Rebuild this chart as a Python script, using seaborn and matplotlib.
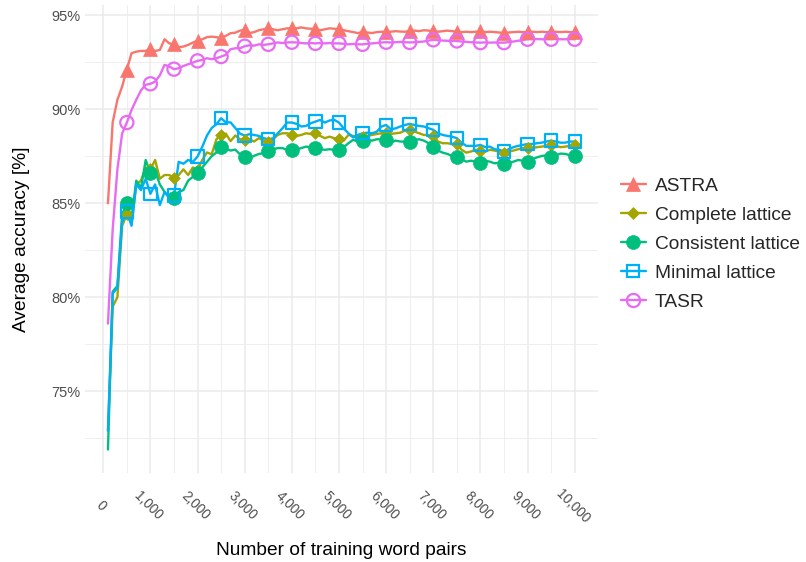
import matplotlib.pyplot as plt
import matplotlib.transforms as mtransforms
import pandas as pd
import seaborn as sns
from matplotlib.lines import Line2D

# Training set size (word pairs), one sample every 100 pairs
train_pairs = list(range(100, 10001, 100))

astra = [85.0, 89.3, 90.5, 91.2, 92.1, 92.98, 93.06, 93.1, 93.1, 93.2,
         93.1, 93.15, 93.72, 93.5, 93.45, 93.3, 93.33, 93.42, 93.54, 93.65,
         93.72, 93.83, 93.86, 93.83, 93.78, 93.9, 94.04, 94.07, 94.18, 94.22,
         94.05, 94.1, 94.2, 94.25, 94.3, 94.25, 94.2, 94.25, 94.3, 94.3,
         94.3, 94.35, 94.3, 94.28, 94.25, 94.2, 94.25, 94.3, 94.28, 94.25,
         94.2, 94.15, 94.1, 94.05, 94.1, 94.08, 94.05, 94.1, 94.12, 94.1,
         94.12, 94.15, 94.13, 94.12, 94.15, 94.18, 94.15, 94.2, 94.18, 94.15,
         94.12, 94.15, 94.18, 94.15, 94.12, 94.1, 94.12, 94.1, 94.12, 94.15,
         94.1, 94.12, 94.1, 94.08, 94.05, 94.08, 94.1, 94.12, 94.1, 94.1,
         94.12, 94.1, 94.12, 94.1, 94.1, 94.12, 94.1, 94.12, 94.1, 94.1]

complete = [72.9, 79.5, 80.0, 83.8, 84.4, 83.9, 86.0, 86.2, 86.9, 86.8,
            87.3, 86.3, 86.5, 86.5, 86.33, 86.5, 86.8, 86.5, 86.9, 86.77,
            87.3, 87.7, 87.6, 88.4, 88.63, 88.7, 88.3, 88.6, 88.4, 88.37,
            88.4, 88.28, 88.46, 88.33, 88.28, 88.4, 88.63, 88.72, 88.72, 88.63,
            88.58, 88.63, 88.72, 88.68, 88.72, 88.58, 88.46, 88.54, 88.46, 88.4,
            88.33, 88.63, 88.58, 88.54, 88.54, 88.58, 88.63, 88.68, 88.72, 88.72,
            88.68, 88.72, 88.75, 88.86, 88.9, 88.81, 88.72, 88.63, 88.63, 88.58,
            88.28, 88.19, 88.19, 88.15, 88.15, 87.84, 87.69, 87.75, 87.84, 87.8,
            87.75, 87.84, 87.8, 87.75, 87.69, 87.75, 87.8, 87.87, 87.93, 87.93,
            87.93, 87.98, 88.01, 88.05, 88.1, 88.05, 87.98, 88.01, 88.05, 88.1]

consistent = [71.9, 80.3, 80.6, 84.4, 85.0, 84.2, 86.2, 85.8, 87.3, 86.6,
              86.7, 86.0, 85.6, 85.3, 85.3, 85.6, 85.7, 86.2, 86.4, 86.6,
              86.9, 87.2, 87.5, 87.7, 88.0, 87.9, 87.8, 87.85, 87.6, 87.48,
              87.39, 87.52, 87.62, 87.66, 87.8, 87.87, 87.93, 87.93, 87.84, 87.84,
              87.87, 87.93, 88.01, 87.98, 87.93, 87.87, 87.84, 87.87, 87.84, 87.84,
              87.98, 88.19, 88.37, 88.28, 88.33, 88.37, 88.33, 88.4, 88.4, 88.37,
              88.23, 88.33, 88.28, 88.28, 88.28, 88.37, 88.4, 88.33, 88.19, 88.01,
              87.8, 87.69, 87.62, 87.51, 87.44, 87.34, 87.21, 87.26, 87.21, 87.16,
              87.26, 87.21, 87.12, 87.16, 87.09, 87.12, 87.21, 87.3, 87.26, 87.21,
              87.34, 87.44, 87.51, 87.55, 87.46, 87.55, 87.64, 87.62, 87.55, 87.51]

minimal = [72.9, 80.2, 80.5, 84.0, 84.55, 83.8, 86.0, 85.7, 86.3, 85.5,
           86.0, 84.9, 85.6, 85.3, 85.4, 87.2, 87.1, 87.3, 87.2, 87.48,
           88.0, 88.6, 89.0, 89.2, 89.52, 89.3, 89.3, 89.0, 88.7, 88.6,
           88.67, 88.63, 88.58, 88.46, 88.4, 88.45, 88.72, 88.98, 89.29, 89.29,
           89.22, 89.08, 89.11, 89.25, 89.34, 89.43, 89.29, 89.4, 89.43, 89.29,
           88.98, 88.72, 88.5, 88.63, 88.72, 88.75, 88.72, 88.8, 89.08, 89.16,
           88.93, 88.98, 89.08, 89.16, 89.22, 89.16, 89.11, 89.08, 88.99, 88.9,
           88.72, 88.63, 88.58, 88.54, 88.46, 88.22, 88.05, 88.05, 88.05, 88.1,
           87.98, 88.01, 87.87, 87.84, 87.75, 87.87, 87.98, 88.05, 88.1, 88.15,
           88.15, 88.19, 88.22, 88.28, 88.33, 88.28, 88.22, 88.22, 88.28, 88.28]

tasr = [78.6, 83.6, 86.8, 88.7, 89.29, 89.96, 90.5, 91.0, 91.3, 91.35,
        91.47, 91.8, 92.36, 92.27, 92.13, 92.18, 92.3, 92.39, 92.48, 92.57,
        92.62, 92.71, 92.66, 92.71, 92.8, 92.89, 93.19, 93.24, 93.24, 93.35,
        93.4, 93.38, 93.45, 93.42, 93.45, 93.5, 93.55, 93.52, 93.55, 93.56,
        93.55, 93.52, 93.5, 93.52, 93.5, 93.52, 93.5, 93.52, 93.5, 93.5,
        93.48, 93.45, 93.47, 93.45, 93.45, 93.48, 93.5, 93.52, 93.55, 93.56,
        93.55, 93.56, 93.58, 93.56, 93.55, 93.56, 93.58, 93.6, 93.65, 93.69,
        93.67, 93.65, 93.64, 93.63, 93.63, 93.6, 93.58, 93.56, 93.55, 93.54,
        93.55, 93.54, 93.55, 93.54, 93.54, 93.57, 93.6, 93.64, 93.68, 93.72,
        93.72, 93.73, 93.72, 93.72, 93.72, 93.73, 93.72, 93.72, 93.73, 93.72]

methods = ["ASTRA", "Complete lattice", "Consistent lattice", "Minimal lattice", "TASR"]
colors = ["#F8766D", "#A3A500", "#00BF7D", "#00B0F6", "#E76BF3"]

series = dict(zip(methods, [astra, complete, consistent, minimal, tasr]))
df = pd.concat([pd.DataFrame({"pairs": train_pairs, "acc": vals, "method": name})
                for name, vals in series.items()], ignore_index=True)
palette = dict(zip(methods, colors))

# marker style per method: (marker, size, filled)
marker_style = {
    "ASTRA": ("^", 100, True),
    "Complete lattice": ("D", 36, True),
    "Consistent lattice": ("o", 100, True),
    "Minimal lattice": ("s", 80, False),
    "TASR": ("o", 90, False),
}

sns.set_theme(style="white")
plt.rcParams["font.family"] = ["Liberation Sans", "DejaVu Sans"]

fig = plt.figure(figsize=(8.06, 5.62), dpi=100)
ax = fig.add_axes([0.105, 0.159, 0.637, 0.8317])

sns.lineplot(data=df, x="pairs", y="acc", hue="method", hue_order=methods,
             palette=palette, estimator=None, lw=1.7, legend=False, ax=ax)

marked = df[df["pairs"] % 500 == 0]
for name in methods:
    m, s, filled = marker_style[name]
    sub = marked[marked["method"] == name]
    c = palette[name]
    if filled:
        sns.scatterplot(data=sub, x="pairs", y="acc", marker=m, s=s, color=c,
                        edgecolor=c, linewidth=0.5, legend=False, ax=ax, zorder=3)
    else:
        sns.scatterplot(data=sub, x="pairs", y="acc", marker=m, s=s,
                        facecolor="none", edgecolor=c, linewidth=1.6,
                        legend=False, ax=ax, zorder=3)

ax.set_xlim(-395, 10495)
ax.set_ylim(70.67, 95.53)
ax.set_xticks(range(0, 10001, 1000))
ax.set_xticks(range(500, 10001, 1000), minor=True)
ax.set_yticks([75, 80, 85, 90, 95])
ax.set_yticks([72.5, 77.5, 82.5, 87.5, 92.5], minor=True)
ax.set_xticklabels([f"{v:,}" for v in range(0, 10001, 1000)])
ax.set_yticklabels([f"{v}%" for v in [75, 80, 85, 90, 95]])
ax.grid(which="major", color="#EBEBEB", lw=1.1)
ax.grid(which="minor", color="#EBEBEB", lw=0.6)
ax.set_axisbelow(True)
for sp in ax.spines.values():
    sp.set_visible(False)

ax.tick_params(axis="both", which="both", length=0, labelcolor="#4D4D4D")
ax.tick_params(axis="y", pad=3, labelsize=10.5)
ax.tick_params(axis="x", pad=24, labelsize=9.8)
shift = mtransforms.ScaledTranslation(-2 / 100, 0, fig.dpi_scale_trans)
for lab in ax.get_xticklabels():
    lab.set_rotation(-45)
    lab.set_ha("center")
    lab.set_va("center")
    lab.set_transform(lab.get_transform() + shift)

ax.set_xlabel("Number of training word pairs", fontsize=13.8, color="black", labelpad=12)
ax.set_ylabel("Average accuracy [%]", fontsize=13.8, color="black", labelpad=15)

handles = []
for name in methods:
    m, s, filled = marker_style[name]
    c = palette[name]
    handles.append(Line2D([], [], color=c, lw=1.7, marker=m, markersize=s ** 0.5,
                          markerfacecolor=c if filled else "none",
                          markeredgecolor=c, markeredgewidth=1.6 if not filled else 0.5))
fig.legend(handles, methods, loc="center left", bbox_to_anchor=(0.7705, 0.5655),
           frameon=False, fontsize=13.8, handlelength=1.3, handletextpad=0.45,
           labelspacing=0.6, borderpad=0, borderaxespad=0)

fig.savefig("out.png", dpi=100)
